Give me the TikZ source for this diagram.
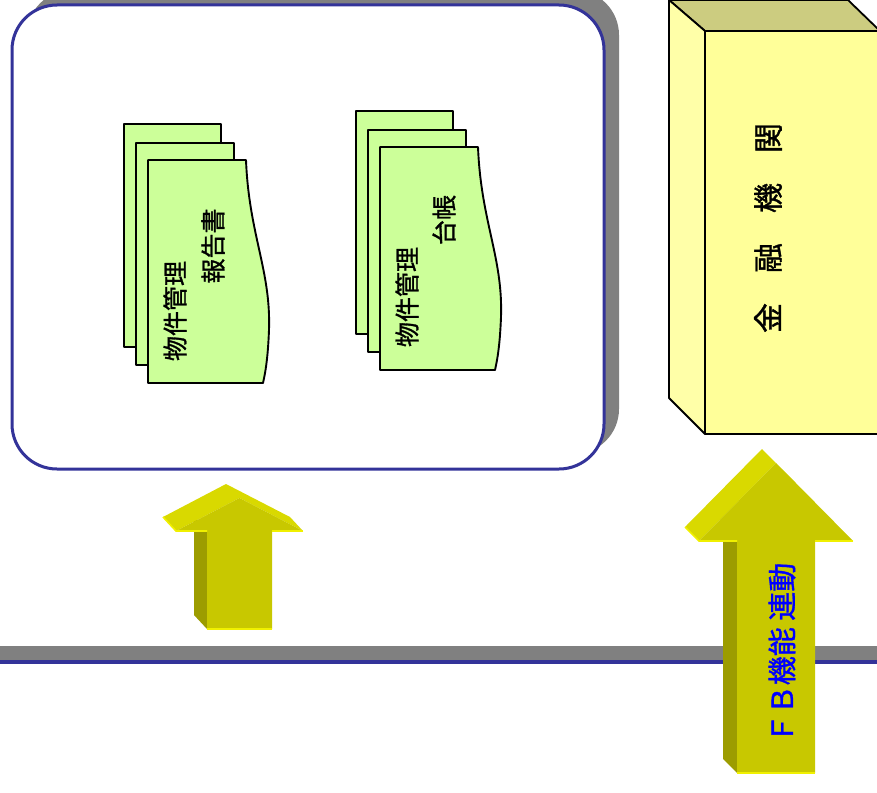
\documentclass[tikz,border=0pt]{standalone}
\usepackage{fontspec}
\newfontfamily\cjk{Noto Sans CJK JP}[FakeBold=1.2]
\definecolor{boxblue}{HTML}{333399}
\definecolor{docgreen}{HTML}{CCFF99}
\definecolor{yfront}{HTML}{FFFF99}
\definecolor{ytop}{HTML}{CCCC80}
\definecolor{yside}{HTML}{FFFFA8}
\definecolor{afront}{HTML}{C8C800}
\definecolor{atop}{HTML}{D9D900}
\definecolor{aside}{HTML}{9C9C00}
\definecolor{ahigh}{HTML}{F0F000}
\definecolor{shadowgray}{HTML}{808080}
\tikzset{
  docbox/.style={fill=docgreen,draw=black,line width=1.9pt,line join=round},
  doctext/.style={rotate=90,inner sep=0pt,font=\cjk\fontsize{25}{28}\selectfont},
  cube/.style={draw=black,line width=1.8pt,line join=round},
  afr/.style={fill=afront},
  atp/.style={fill=atop},
  asd/.style={fill=aside},
  ahl/.style={draw=ahigh,line width=1.6pt},
}
\begin{document}
\begin{tikzpicture}[x=1pt,y=-1pt]
\useasboundingbox (0,0) rectangle (877,792);
% rounded box with shadow
\fill[shadowgray,rounded corners=45] (27,-10) rectangle (619,454);
\draw[fill=white,draw=boxblue,line width=3pt,rounded corners=45] (12,5) rectangle (604,469);
% document stack 1
\draw[docbox] (124,124) rectangle (221,347);
\draw[docbox] (136,143) rectangle (234,365);
\draw[docbox] (148,160) -- (246,160) .. controls (249,235) and (271,270) .. (269,330) .. controls (268,355) and (266,370) .. (263,383) -- (148,383) -- cycle;
\node[doctext] (d1a) at (175,311) {物件管理};
\node[doctext] (d1b) at (213,246) {報告書};
% document stack 2
\draw[docbox] (356,111) rectangle (453,334);
\draw[docbox] (368,130) rectangle (466,352);
\draw[docbox] (380,147) -- (478,147) .. controls (481,222) and (503,257) .. (501,317) .. controls (500,342) and (498,357) .. (495,370) -- (380,370) -- cycle;
\node[doctext] (d2a) at (407,297) {物件管理};
\node[doctext] (d2b) at (444,220) {台帳};
% financial institution box
\draw[cube,fill=ytop] (669,0) -- (848,0) -- (880,31) -- (705,31) -- cycle;
\draw[cube,fill=yside] (669,0) -- (705,31) -- (705,434) -- (669,398) -- cycle;
\draw[cube,fill=yfront] (705,31) rectangle (880,434);
\node[rotate=90,inner sep=0pt,font=\cjk\fontsize{30}{32}\selectfont] (bank) at (768,228) {金　融　機　関};
% horizontal band
\fill[shadowgray] (0,646) rectangle (877,660);
\draw[boxblue,line width=3.2pt] (0,662) -- (877,662);
% small arrow
\fill[asd] (194,517) -- (207,531) -- (207,629) -- (194,615) -- cycle;
\fill[atp] (163,517) -- (226,484) -- (290,517) -- (303,531) -- (239.5,498) -- (176,531) -- cycle;
\fill[afr] (207,629) -- (207,531) -- (176,531) -- (239.5,498) -- (303,531) -- (272,531) -- (272,629) -- cycle;
\draw[ahl] (163,517) -- (176,531) -- (207,531);
\draw[ahl] (272,531) -- (303,531);
\draw[ahl] (207,629) -- (272,629);
% big arrow
\fill[asd] (723,527) -- (737,541) -- (737,773) -- (723,759) -- cycle;
\fill[atp] (685,527) -- (762,449) -- (839,527) -- (853,541) -- (776,463) -- (699,541) -- cycle;
\fill[afr] (737,773) -- (737,541) -- (699,541) -- (776,463) -- (853,541) -- (815,541) -- (815,773) -- cycle;
\draw[ahl] (685,527) -- (699,541) -- (737,541);
\draw[ahl] (815,541) -- (853,541);
\draw[ahl] (737,773) -- (815,773);
\node[rotate=90,inner sep=0pt,text=blue,font=\cjk\fontsize{29}{32}\selectfont] (fb) at (782,653) {ＦＢ機能 連動};
\end{tikzpicture}
\end{document}
